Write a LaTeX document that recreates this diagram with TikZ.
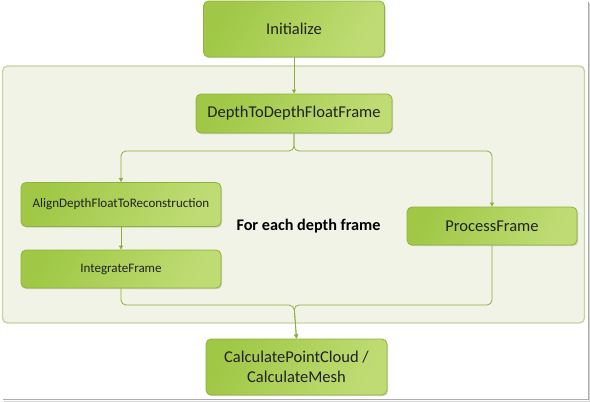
\documentclass[tikz,border=0pt]{standalone}
\usepackage{fontspec}
\setmainfont{Carlito}
\usetikzlibrary{arrows.meta,shadows}
\definecolor{boxA}{HTML}{A0C846}
\definecolor{boxB}{HTML}{BFDC74}
\definecolor{boxLine}{HTML}{8DB23A}
\definecolor{connC}{HTML}{8CAE3C}
\definecolor{panelFill}{HTML}{F0F3E6}
\definecolor{panelLine}{HTML}{C6D3A0}
\definecolor{txt}{HTML}{222222}
\tikzset{
  gbox/.style={draw=boxLine, line width=0.8pt, rounded corners=5pt,
    left color=boxA, right color=boxB, shading angle=60,
    text=txt, align=center, inner sep=0pt,
    drop shadow={shadow xshift=1pt, shadow yshift=-1.2pt, opacity=0.25, fill=black!60}},
  conn/.style={draw=connC, line width=0.8pt, rounded corners=5pt,
    -{Triangle[length=4pt,width=4pt]}},
  bigtxt/.style={font=\fontsize{16.5}{19.5}\selectfont},
  smalltxt/.style={font=\fontsize{13}{15}\selectfont},
}
\begin{document}
\begin{tikzpicture}[x=1pt,y=-1pt]
\useasboundingbox (0,0) rectangle (590,402);
\fill[white] (0,0) rectangle (590,402);
% frame shadow of the image
\draw[gray!65, line width=1.2pt] (588.2,2) -- (588.2,399.6) -- (3,399.6);
\draw[gray!35, line width=1.4pt] (589.6,3) -- (589.6,401.2) -- (4,401.2);
% panel
\node[draw=panelLine, fill=panelFill, line width=1.3pt, rounded corners=5pt,
  minimum width=582pt, minimum height=257pt, inner sep=0pt] (panel) at (293.5,194.5) {};
% boxes
\node[gbox, bigtxt, minimum width=181pt, minimum height=56pt] (init) at (294,29) {Initialize};
\node[gbox, bigtxt, minimum width=196pt, minimum height=39pt] (dtdf) at (294,113.5) {DepthToDepthFloatFrame};
\node[gbox, smalltxt, minimum width=200pt, minimum height=44pt] (align) at (121,204.5) {AlignDepthFloatToReconstruction};
\node[gbox, smalltxt, minimum width=200pt, minimum height=38pt] (integ) at (121,269) {IntegrateFrame};
\node[gbox, bigtxt, minimum width=170pt, minimum height=38pt] (proc) at (492,226) {ProcessFrame};
\node[gbox, bigtxt, minimum width=181pt, minimum height=56pt] (calc) at (296.5,367) {CalculatePointCloud /\\CalculateMesh};
\node[text=black, font=\bfseries\fontsize{16.2}{19}\selectfont] (label) at (308.5,226) {For each depth frame};
% connectors
\coordinate (split) at (294,151);
\coordinate (merge) at (294,305);
\draw[conn] (init) -- (dtdf);
\draw[conn] (dtdf.south) -- (split) -| (align.north);
\draw[conn] (dtdf.south) -- (split) -| (proc.north);
\draw[conn] (align) -- (integ);
\draw[conn] (integ.south) |- (merge) -- (calc.north);
\draw[conn] (proc.south) |- (merge) -- (calc.north);
\end{tikzpicture}
\end{document}
